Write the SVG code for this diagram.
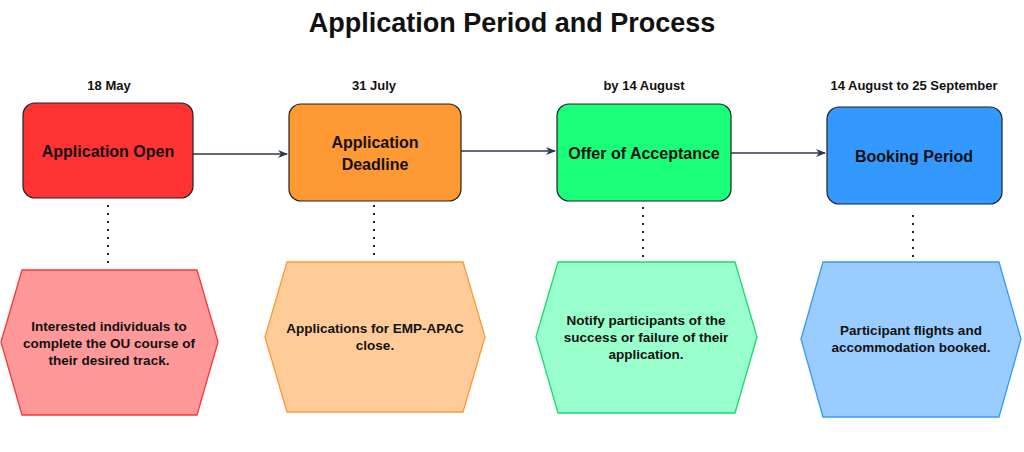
<svg xmlns="http://www.w3.org/2000/svg" width="1024" height="452" viewBox="0 0 1024 452">
<style>
text{font-family:"Liberation Sans",Arial,sans-serif;font-weight:bold;fill:#111;text-anchor:middle}
.t{font-size:27px}.d{font-size:13px}.b{font-size:16px}.h{font-size:13.5px}
.box{stroke:#222;stroke-width:1.2}
.dot{stroke:#222;stroke-width:2;stroke-dasharray:2 6}
.arr{stroke:#2b3a4a;stroke-width:1.3;fill:none;marker-end:url(#ah)}
</style>
<defs><marker id="ah" markerWidth="10" markerHeight="10" refX="9" refY="5" orient="auto" markerUnits="userSpaceOnUse"><path d="M0,1 L10,5 L0,9 L3,5 Z" fill="#2b3a4a"/></marker></defs>
<rect width="1024" height="452" fill="#fff"/>
<text class="t" x="512" y="32">Application Period and Process</text>
<g id="connectors">
<line class="arr" x1="193" y1="154" x2="287" y2="154"/>
<line class="arr" x1="461" y1="151" x2="555" y2="151"/>
<line class="arr" x1="731" y1="153" x2="825" y2="153"/>
<line class="dot" x1="108" y1="205" x2="108" y2="268"/>
<line class="dot" x1="374" y1="205" x2="374" y2="258"/>
<line class="dot" x1="643" y1="207" x2="643" y2="258"/>
<line class="dot" x1="913" y1="215" x2="913" y2="260"/>
</g>
<g id="n1"><text class="d" x="109" y="90">18 May</text>
<rect class="box" x="23" y="103" width="170" height="95" rx="12" fill="#FF3333"/>
<text class="b" x="108" y="157">Application Open</text></g>
<g id="n2"><text class="d" x="374" y="90">31 July</text>
<rect class="box" x="289" y="104" width="172" height="97" rx="12" fill="#FF9933"/>
<text class="b" x="375" y="148">Application</text><text class="b" x="375" y="170">Deadline</text></g>
<g id="n3"><text class="d" x="644" y="90">by 14 August</text>
<rect class="box" x="557" y="104" width="174" height="97" rx="12" fill="#1AFF7A"/>
<text class="b" x="644" y="159">Offer of Acceptance</text></g>
<g id="n4"><text class="d" x="914" y="90">14 August to 25 September</text>
<rect class="box" x="827" y="107" width="175" height="97" rx="12" fill="#3399FF"/>
<text class="b" x="914" y="162">Booking Period</text></g>
<g id="h1"><polygon points="22,270 197,270 218,342 197,415 22,415 1,342" fill="#FF9999" stroke="#FF3333" stroke-width="1.3"/>
<text class="h" x="109" y="331">Interested individuals to</text><text class="h" x="109" y="348">complete the OU course of</text><text class="h" x="109" y="365">their desired track.</text></g>
<g id="h2"><polygon points="287,262 463,262 485,337 463,412 287,412 265,337" fill="#FFCC99" stroke="#FF9933" stroke-width="1.3"/>
<text class="h" x="375" y="333">Applications for EMP-APAC</text><text class="h" x="375" y="350">close.</text></g>
<g id="h3"><polygon points="558,262 735,262 757,337 735,413 558,413 536,337" fill="#99FFCC" stroke="#1AD96A" stroke-width="1.3"/>
<text class="h" x="646" y="325">Notify participants of the</text><text class="h" x="646" y="342">success or failure of their</text><text class="h" x="646" y="359">application.</text></g>
<g id="h4"><polygon points="823,262 999,262 1021,339 999,417 823,417 801,339" fill="#99CCFF" stroke="#3399FF" stroke-width="1.3"/>
<text class="h" x="911" y="335">Participant flights and</text><text class="h" x="911" y="352">accommodation booked.</text></g>
</svg>
